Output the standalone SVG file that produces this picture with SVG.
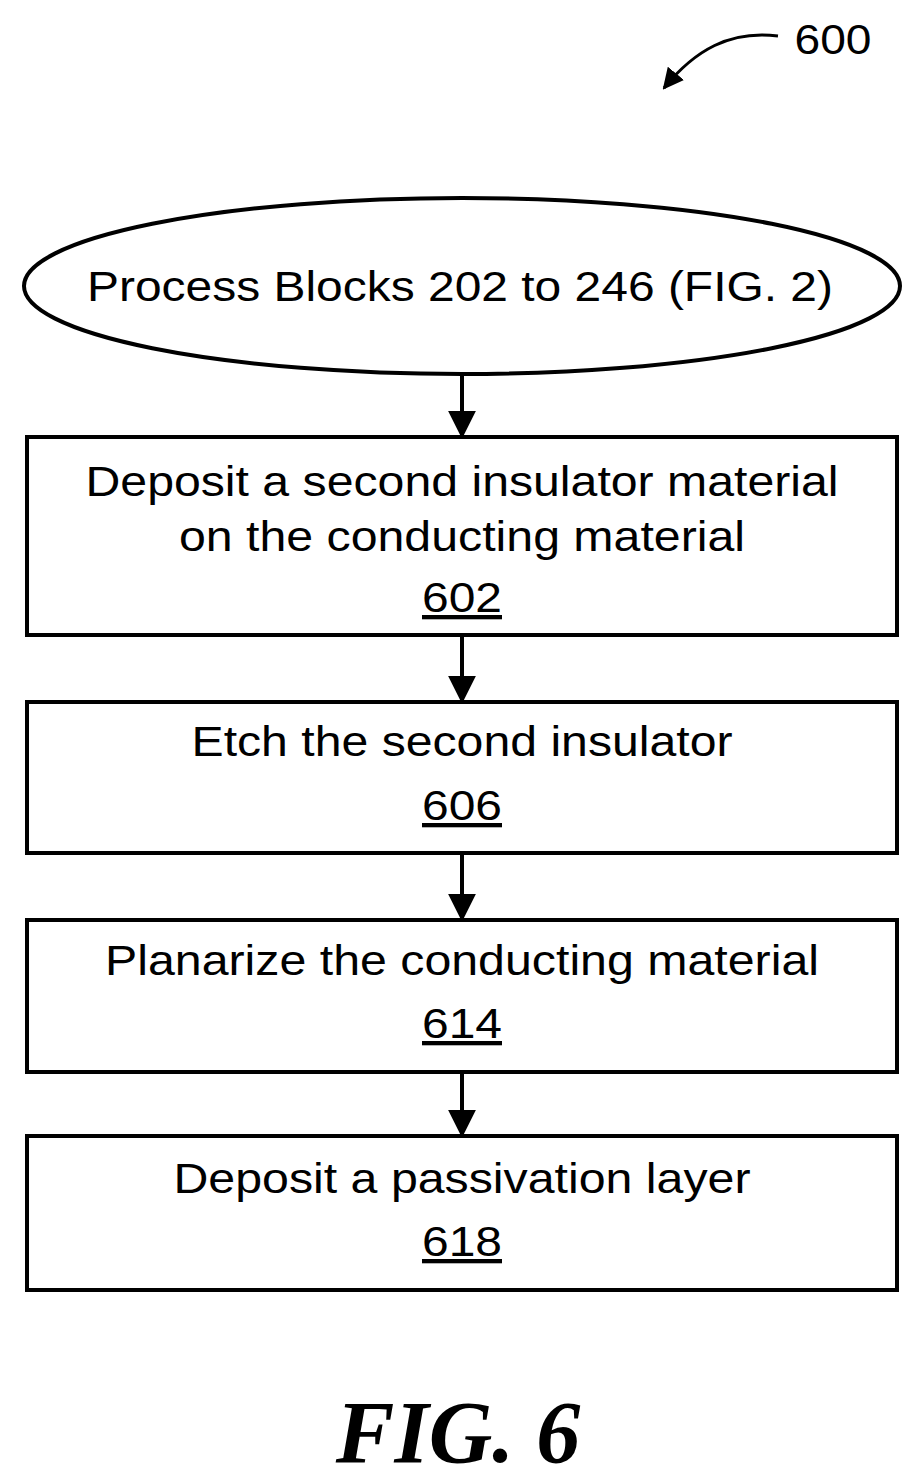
<svg xmlns="http://www.w3.org/2000/svg" width="922" height="1482" viewBox="0 0 922 1482">
<defs>
<style>
.s{fill:#fff;stroke:#000;stroke-width:4}
.t{font-family:"Liberation Sans",Arial,sans-serif;font-size:43px;text-anchor:middle;fill:#000}
.c{stroke:#000;stroke-width:4;fill:none}
</style>
<marker id="b" viewBox="0 0 10 10" refX="9" refY="5" markerWidth="7" markerHeight="7" orient="auto"><path d="M0,0L10,5L0,10z"/></marker>
</defs>
<rect width="922" height="1482" fill="#fff"/>
<g id="label600">
<text x="833" y="54" class="t" textLength="77" lengthAdjust="spacingAndGlyphs">600</text>
<path d="M778,36 C730,30 695,50 664,88" class="c" marker-end="url(#b)" style="stroke-width:3"/>
</g>
<g id="connectors">
<path d="M462,376V436" class="c" marker-end="url(#b)"/>
<path d="M462,637V701" class="c" marker-end="url(#b)"/>
<path d="M462,855V919" class="c" marker-end="url(#b)"/>
<path d="M462,1074V1135" class="c" marker-end="url(#b)"/>
</g>
<g id="start">
<ellipse cx="462" cy="286" rx="438" ry="88" class="s"/>
<text x="460" y="301" class="t" textLength="746" lengthAdjust="spacingAndGlyphs">Process Blocks 202 to 246 (FIG. 2)</text>
</g>
<g id="n602">
<rect x="27" y="437" width="870" height="198" class="s"/>
<text x="462" y="496" class="t" textLength="753" lengthAdjust="spacingAndGlyphs">Deposit a second insulator material</text>
<text x="462" y="551" class="t" textLength="566" lengthAdjust="spacingAndGlyphs">on the conducting material</text>
<text x="462" y="612" class="t" text-decoration="underline" textLength="80" lengthAdjust="spacingAndGlyphs">602</text>
</g>
<g id="n606">
<rect x="27" y="702" width="870" height="151" class="s"/>
<text x="462" y="756" class="t" textLength="541" lengthAdjust="spacingAndGlyphs">Etch the second insulator</text>
<text x="462" y="820" class="t" text-decoration="underline" textLength="80" lengthAdjust="spacingAndGlyphs">606</text>
</g>
<g id="n614">
<rect x="27" y="920" width="870" height="152" class="s"/>
<text x="462" y="975" class="t" textLength="714" lengthAdjust="spacingAndGlyphs">Planarize the conducting material</text>
<text x="462" y="1038" class="t" text-decoration="underline" textLength="80" lengthAdjust="spacingAndGlyphs">614</text>
</g>
<g id="n618">
<rect x="27" y="1136" width="870" height="154" class="s"/>
<text x="462" y="1193" class="t" textLength="577" lengthAdjust="spacingAndGlyphs">Deposit a passivation layer</text>
<text x="462" y="1256" class="t" text-decoration="underline" textLength="80" lengthAdjust="spacingAndGlyphs">618</text>
</g>
<text x="458" y="1462" style="font-family:'Liberation Serif','Times New Roman',serif;font-size:88px;font-weight:bold;font-style:italic;text-anchor:middle">FIG. 6</text>
</svg>
